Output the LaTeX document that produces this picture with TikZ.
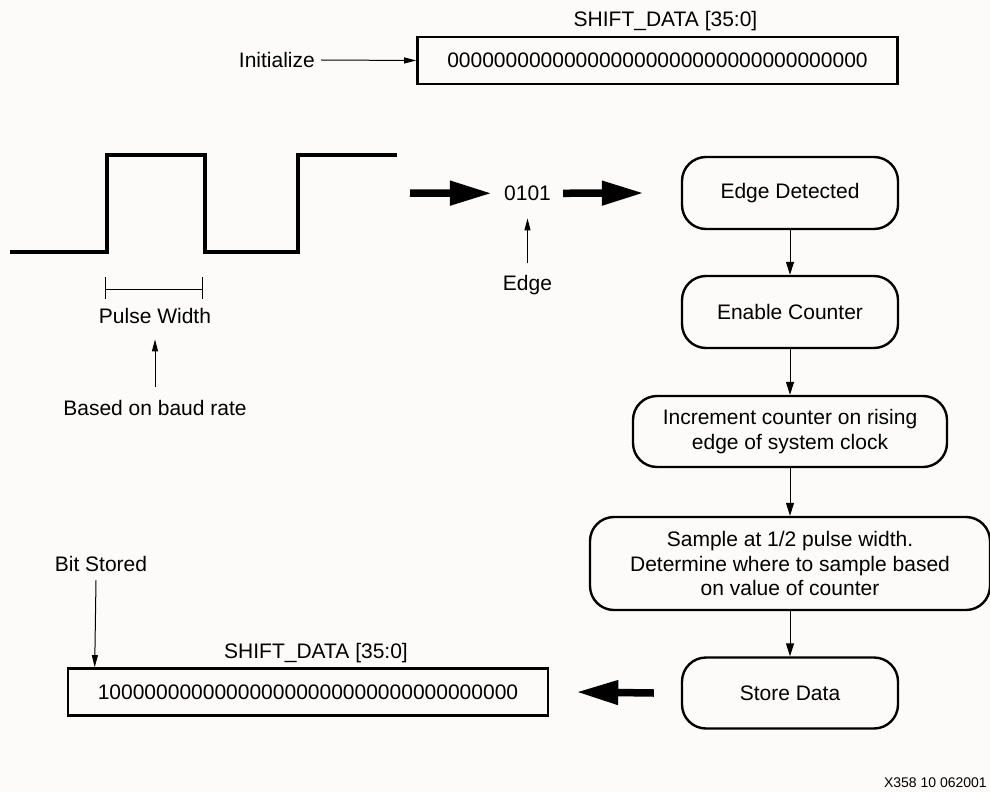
\documentclass[tikz,border=0pt]{standalone}
\usepackage{fontspec}
\setmainfont{Liberation Sans}
\usetikzlibrary{arrows.meta}
\definecolor{paper}{RGB}{252,251,249}

\begin{document}
\begin{tikzpicture}[x=1pt,y=-1pt,font=\fontsize{21}{24.5}\selectfont]
    \tikzset{txt/.style = {inner sep=0pt, anchor=base}}
    \tikzset{reg/.style = {draw, line width=2.6pt, minimum width=480pt, minimum height=47pt, inner sep=0pt}}
    \tikzset{flow/.style = {draw, line width=2.4pt, rounded corners=24pt, align=center, minimum width=216pt, minimum height=72pt}}
    \tikzset{link/.style = {draw, line width=1pt, -{Triangle[length=12pt,width=6pt]}}}
    \tikzset{flowlink/.style = {draw, line width=1pt, -{Triangle[length=13pt,width=8pt]}}}
    \tikzset{fat/.style = {draw, line width=7.5pt, -{Triangle[length=42pt,width=23pt]}}}
    \tikzset{wave/.style = {line width=3.3pt, miter limit=4}}

    \useasboundingbox (0,0) rectangle (990,792);
    \fill[paper] (0,0) rectangle (990,792);

    % registers
    \node[reg] (regtop) at (657.5,60.5) {000000000000000000000000000000000000};
    \node[txt] (toptitle) at ([xshift=8pt,yshift=9pt]regtop.north) {SHIFT\_DATA [35:0]};
    \node[txt, anchor=base east] (init) at (315,67.5) {Initialize};
    \node[reg] (regbot) at (308,692) {100000000000000000000000000000000000};
    \node[txt] (bottitle) at ([xshift=8pt,yshift=9pt]regbot.north) {SHIFT\_DATA [35:0]};
    \node[txt] (bitlbl) at (101,571.5) {Bit Stored};

    % signal
    \draw[wave] (10,252) -- (107,252) -- (107,155) -- (205,155) -- (205,252)
        -- (298,252) -- (298,155) -- (397,155);
    \coordinate (sigend) at (410,193);
    \draw[line width=1pt] (105,277) -- (105,299) (105,289) -- (202,289) (202,277) -- (202,299);
    \node[txt] (pw) at (155,323) {Pulse Width};
    \node[txt] (baud) at (155,415) {Based on baud rate};
    \node[txt] (bits) at (527.5,200.5) {0101};
    \node[txt] (edgelbl) at (527.5,290.5) {Edge};

    % flow
    \node[flow] (edgedet) at (790,193) {Edge Detected};
    \node[flow] (enable) at (790,312) {Enable Counter};
    \node[flow, minimum width=314pt, minimum height=71pt] (incr) at (790,431.5)
        {Increment counter on rising\\edge of system clock};
    \node[flow, minimum width=400pt, minimum height=93pt] (sample) at (790,563.5)
        {Sample at 1/2 pulse width.\\Determine where to sample based\\on value of counter};
    \node[flow, minimum height=71pt] (store) at (790,693) {Store Data};

    \node[txt, anchor=base east, font=\fontsize{14}{16}\selectfont] (fignum) at (987,787) {X358 10 062001};

    % edges
    \draw[link] ([xshift=6pt]init.east) -- (regtop.west);
    \draw[link] ([yshift=12pt]edgelbl.north) -- ([yshift=-17.5pt]bits.south);
    \draw[link] ([yshift=12.6pt]baud.north) -- ([yshift=-16pt]pw.south);
    \draw[link] ([xshift=-5pt,yshift=-8.5pt]bitlbl.south) -- ([xshift=28pt]regbot.north west);

    \draw[fat] (sigend) -- ([xshift=-12pt]bits.west);
    \draw[fat] ([xshift=12pt]bits.east) -- ([xshift=-37pt]edgedet.west);
    \draw[fat] ([xshift=-27pt]store.west) -- ([xshift=27pt]regbot.east);

    \draw[flowlink] (edgedet) -- (enable);
    \draw[flowlink] (enable) -- (incr);
    \draw[flowlink] (incr) -- (sample);
    \draw[flowlink] (sample) -- (store);
\end{tikzpicture}
\end{document}
